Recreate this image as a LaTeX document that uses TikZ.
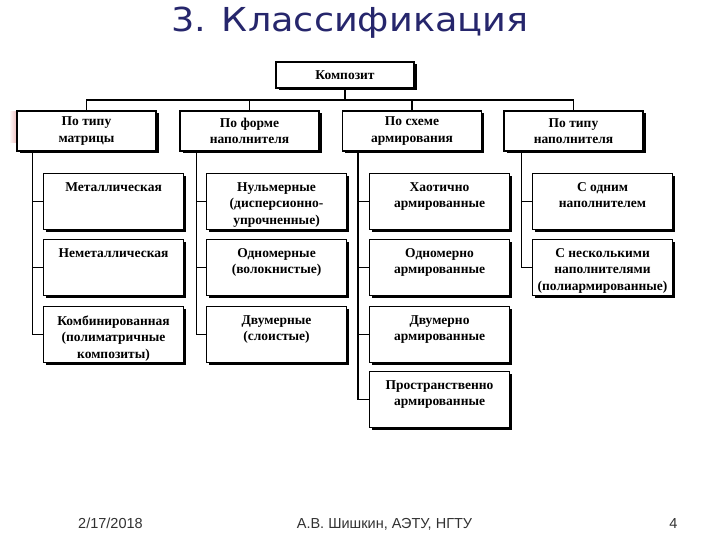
\documentclass[tikz,border=0pt]{standalone}
\usepackage{fontspec}
\setmainfont{Liberation Serif}
\newfontfamily\titlefont{DejaVu Sans}
\newfontfamily\footfont{Liberation Sans}
\usetikzlibrary{shadows}
\definecolor{titleblue}{RGB}{38,38,108}
\definecolor{footgray}{RGB}{50,50,50}
\definecolor{pinkstrip}{RGB}{238,185,185}
\newcommand{\leaftxt}[1]{\vbox to 38pt{\hsize=136pt\parindent=0pt\centering #1\par\vss}}
\begin{document}
\begin{tikzpicture}[x=1pt,y=-1pt,
  box/.style={draw=black, line width=1.1pt, fill=white, inner sep=0pt,
     drop shadow={shadow xshift=2.5pt, shadow yshift=-2.5pt, opacity=1, fill=black},
     font=\fontsize{13.5}{16.5}\selectfont\bfseries},
  topbox/.style={box, minimum width=138pt, minimum height=26pt},
  catbox/.style={box, minimum width=139pt, minimum height=40pt, align=center},
  leafbox/.style={box, minimum width=140pt, minimum height=56pt, anchor=north west},
  link/.style={line width=1.1pt}]
\useasboundingbox (0,0) rectangle (720,540);
\fill[white] (0,0) rectangle (720,540);
\fill[left color=white, right color=pinkstrip] (9,112) rectangle (17,143);

\node[font=\titlefont\fontsize{33}{40}\selectfont, text=titleblue, anchor=base] (title) at (350,32) {\scalebox{1.11}[1]{3. Классификация}};

\node[topbox] (top) at (345,75) {Композит};

\node[catbox] (c1) at (86.5,131) {По типу\\матрицы};
\node[catbox] (c2) at (249.5,131) {По форме\\наполнителя};
\node[catbox] (c3) at (412,131) {По схеме\\армирования};
\node[catbox] (c4) at (573.5,131) {По типу\\наполнителя};

\node[leafbox] (a1) at (43,173) {\leaftxt{Металлическая}};
\node[leafbox] (a2) at (43,239) {\leaftxt{Неметаллическая}};
\node[leafbox] (a3) at (43,306) {\leaftxt{Комбинированная\\(полиматричные\\композиты)}};

\node[leafbox] (b1) at (206,173) {\leaftxt{Нульмерные\\(дисперсионно-\\упрочненные)}};
\node[leafbox] (b2) at (206,239) {\leaftxt{Одномерные\\(волокнистые)}};
\node[leafbox] (b3) at (206,306) {\leaftxt{Двумерные\\(слоистые)}};

\node[leafbox] (d1) at (369,173) {\leaftxt{Хаотично\\армированные}};
\node[leafbox] (d2) at (369,239) {\leaftxt{Одномерно\\армированные}};
\node[leafbox] (d3) at (369,306) {\leaftxt{Двумерно\\армированные}};
\node[leafbox] (d4) at (369,371) {\leaftxt{Пространственно\\армированные}};

\node[leafbox] (e1) at (532,173) {\leaftxt{С одним\\наполнителем}};
\node[leafbox] (e2) at (532,239) {\leaftxt{С несколькими\\наполнителями\\(полиармированные)}};

\coordinate (bus) at (345,100);
\draw[link] (top.south) -- (bus);
\draw[link] (c1.north) |- (bus);
\draw[link] (c2.north) |- (bus);
\draw[link] (c3.north) |- (bus);
\draw[link] (c4.north) |- (bus);

\coordinate (v1) at ([xshift=16pt]c1.south west);
\coordinate (v2) at ([xshift=17pt]c2.south west);
\coordinate (v3) at ([xshift=16pt]c3.south west);
\coordinate (v4) at ([xshift=18pt]c4.south west);

\draw[link] (v1) |- (a1.west);
\draw[link] (v1) |- (a2.west);
\draw[link] (v1) |- (a3.west);
\draw[link] (v2) |- (b1.west);
\draw[link] (v2) |- (b2.west);
\draw[link] (v2) |- (b3.west);
\draw[link] (v3) |- (d1.west);
\draw[link] (v3) |- (d2.west);
\draw[link] (v3) |- (d3.west);
\draw[link] (v3) |- (d4.west);
\draw[link] (v4) |- (e1.west);
\draw[link] (v4) |- (e2.west);

\node[font=\footfont\fontsize{14.5}{17}\selectfont, text=footgray, anchor=base] (date) at (110.5,528) {2/17/2018};
\node[font=\footfont\fontsize{14.5}{17}\selectfont, text=footgray, anchor=base] (author) at (384.5,528) {А.В. Шишкин, АЭТУ, НГТУ};
\node[font=\footfont\fontsize{14.5}{17}\selectfont, text=footgray, anchor=base] (page) at (673.5,528) {4};
\end{tikzpicture}
\end{document}
